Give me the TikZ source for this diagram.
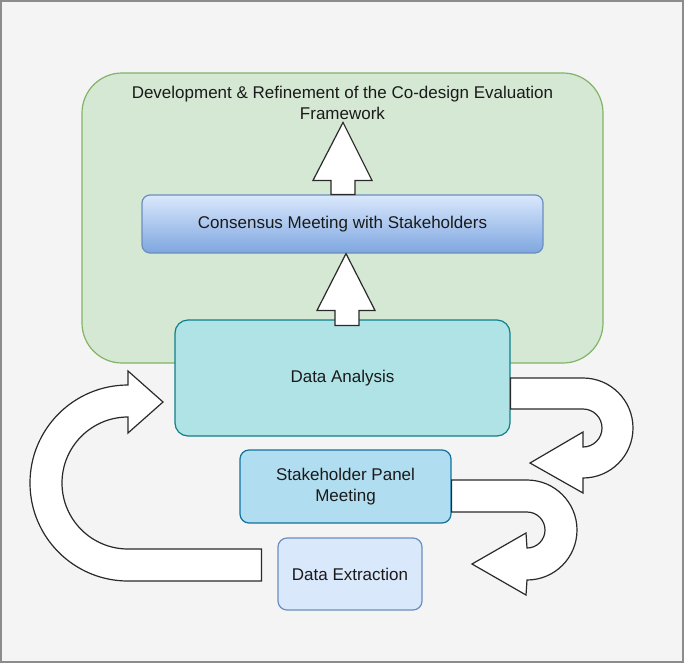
\documentclass[tikz,border=0pt]{standalone}
\usepackage{fontspec}
\setmainfont{Liberation Sans}
\usetikzlibrary{calc}
\definecolor{bgc}{HTML}{F4F4F4}
\definecolor{framec}{HTML}{8C8C8C}
\definecolor{greenf}{HTML}{D5E8D4}
\definecolor{greens}{HTML}{82B366}
\definecolor{blueL}{HTML}{DAE8FC}
\definecolor{blueD}{HTML}{7EA6E0}
\definecolor{blueS}{HTML}{6C8EBF}
\definecolor{tealf}{HTML}{B0E3E6}
\definecolor{teals}{HTML}{0E8088}
\definecolor{skyf}{HTML}{B1DDF0}
\definecolor{skys}{HTML}{10739E}
\definecolor{txt}{HTML}{1A1A1A}
\definecolor{arrs}{HTML}{2A2A2A}
\tikzset{
  lbl/.style={font=\fontsize{17}{21}\selectfont, text=txt, align=center},
  boxbase/.style={rounded corners=#1, line width=1.2pt, inner sep=0pt, lbl},
  blockarrow/.style={fill=white, draw=arrs, line width=1.2pt, line join=miter}
}
\begin{document}
\begin{tikzpicture}[x=1pt,y=-1pt]
\useasboundingbox (0,0) rectangle (685,664);
\fill[white] (0,0) rectangle (685,664);
\draw[framec, fill=bgc, line width=1.5pt] (1,1) rectangle (683,662);

% green frame
\node[boxbase=40pt, fill=greenf, draw=greens, minimum width=521pt, minimum height=290pt] (frame) at (342.5,218) {};
\node[lbl] (title) at (342.5,102.5) {Development \& Refinement of the Co-design Evaluation\\Framework};

% consensus
\node[boxbase=8pt, top color=blueL, bottom color=blueD, draw=blueS, minimum width=401pt, minimum height=58pt] (cons) at (342.5,224) {Consensus Meeting with Stakeholders};

% data analysis
\node[boxbase=13pt, fill=tealf, draw=teals, minimum width=335pt, minimum height=116pt] (da) at (342.5,378) {Data Analysis};

% stakeholder panel
\node[boxbase=9pt, fill=skyf, draw=skys, minimum width=211pt, minimum height=73pt] (sp) at (345.5,486.5) {Stakeholder Panel\\Meeting};

% data extraction
\node[boxbase=9pt, fill=blueL, draw=blueS, minimum width=144pt, minimum height=72pt] (de) at (350,574) {Data Extraction};

% up arrow: consensus -> framework title
\coordinate (tipA) at ($(cons.north)+(0.5,-72)$);
\draw[blockarrow] ($(cons.north)+(-11.5,0)$) -- ++(0,-14) -- ++(-18,0) -- (tipA)
  -- ($(cons.north)+(29.5,-14)$) -- ++(-17,0) -- ($(cons.north)+(12.5,0)$) -- cycle;

% up arrow: data analysis -> consensus
\coordinate (tipB) at ($(cons.south)+(3.5,0)$);
\draw[blockarrow] ($(da.north)+(-7.5,6)$) -- ($(da.north)+(-7.5,-9)$) -- ($(da.north)+(-25.5,-9)$) -- (tipB)
  -- ($(da.north)+(32.5,-9)$) -- ($(da.north)+(16.5,-9)$) -- ($(da.north)+(16.5,6)$) -- cycle;

% U-turn arrow: data analysis -> stakeholder panel
\coordinate (tipC) at (530,463);
\draw[blockarrow] (da.east |- 0,378) -- (583,378) arc[start angle=270, end angle=450, radius=50]
  -- (583,493) -- (tipC) -- (583,432) -- (583,447)
  arc[start angle=90, end angle=-90, radius=19] -- (da.east |- 0,409) -- cycle;

% U-turn arrow: stakeholder panel -> data extraction
\coordinate (tipD) at (472,564);
\draw[blockarrow] (sp.east |- 0,480) -- (527,480) arc[start angle=270, end angle=450, radius=50]
  -- (526,595) -- (tipD) -- (526,533) -- (527,548)
  arc[start angle=90, end angle=-90, radius=18] -- (sp.east |- 0,512) -- cycle;

% C-shaped arrow: data extraction -> data analysis
\coordinate (tipE) at (163,402);
\coordinate (tailE) at ($(de.west)+(-16,0)$);
\draw[blockarrow] (tailE |- 0,549) -- (128,549) arc[start angle=90, end angle=270, radius=66]
  -- (128,433) -- (tipE) -- (128,371) -- (128,385)
  arc[start angle=270, end angle=90, radius=98] -- (tailE |- 0,581) -- cycle;
\end{tikzpicture}
\end{document}
